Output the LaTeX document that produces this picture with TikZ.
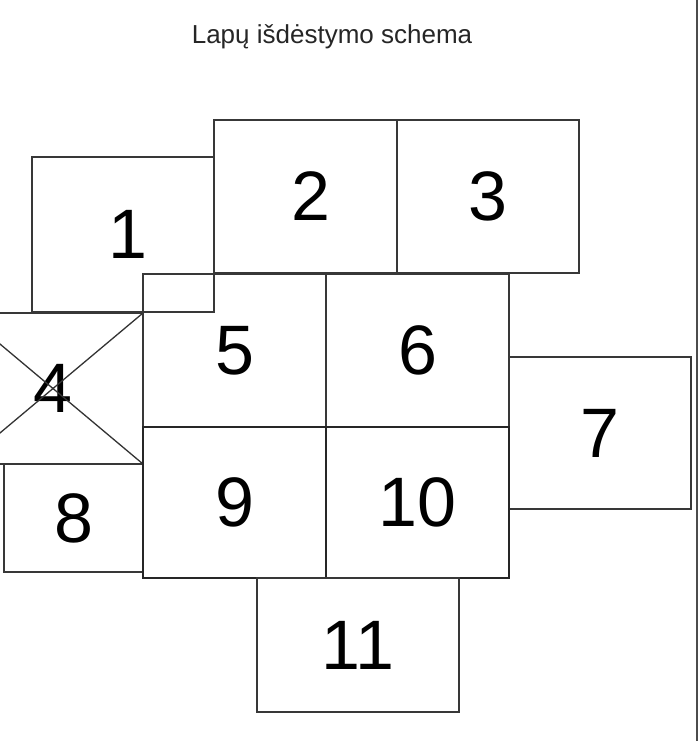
\documentclass[tikz,border=0pt]{standalone}
\usepackage{fontspec}
\setmainfont{Liberation Sans}
\usetikzlibrary{positioning}

\begin{document}
\begin{tikzpicture}[x=1pt, y=-1pt, line width=1.3pt]

    % Define block styles
    \tikzstyle{sheet} = [draw=black!78, rectangle, outer sep=0pt, inner sep=0pt, minimum width=183pt, minimum height=153pt, font=\fontsize{70}{70}\selectfont]
    \tikzstyle{bold sheet} = [sheet, draw=black!85, line width=1.8pt]
    \tikzstyle{title} = [font=\fontsize{26}{30}\selectfont, text=black!85]

    \clip (0,0) rectangle (699,741);
    \fill[white] (0,0) rectangle (699,741);

    % Title
    \node[title] (title) at (332,37) {Lapų išdėstymo schema};

    % Top row
    \node[sheet, minimum width=182pt, minimum height=155pt] (s1) at (123,234.5) {\hspace{10pt}1};
    \node[sheet] (s2) at (305.5,196.5) {\hspace{10pt}2};
    \node[sheet, minimum width=182pt, right=0pt of s2] (s3) {3};

    % Middle row
    \node[sheet, minimum width=180pt, minimum height=151pt] (s4) at (53,388.5) {4};
    \draw[draw=black!80] (s4.north west) -- (s4.south east);
    \draw[draw=black!80] (s4.south west) -- (s4.north east);
    \node[sheet] (s5) at (234.5,350.5) {5};
    \node[sheet, right=0pt of s5] (s6) {6};
    \node[sheet, minimum width=182pt, minimum height=152pt] (s7) at (600,433) {7};

    % Bottom rows
    \node[sheet, minimum width=139pt, minimum height=108pt] (s8) at (73.5,518) {8};
    \node[bold sheet, minimum height=151pt, below=0pt of s5] (s9) {9};
    \node[bold sheet, minimum height=151pt, right=0pt of s9] (s10) {10};
    \node[sheet, minimum width=202pt, minimum height=134pt] (s11) at (358,645) {11};

    % Page edge
    \draw[black!70, line width=2pt] (697,0) -- (697,741);

\end{tikzpicture}
\end{document}
